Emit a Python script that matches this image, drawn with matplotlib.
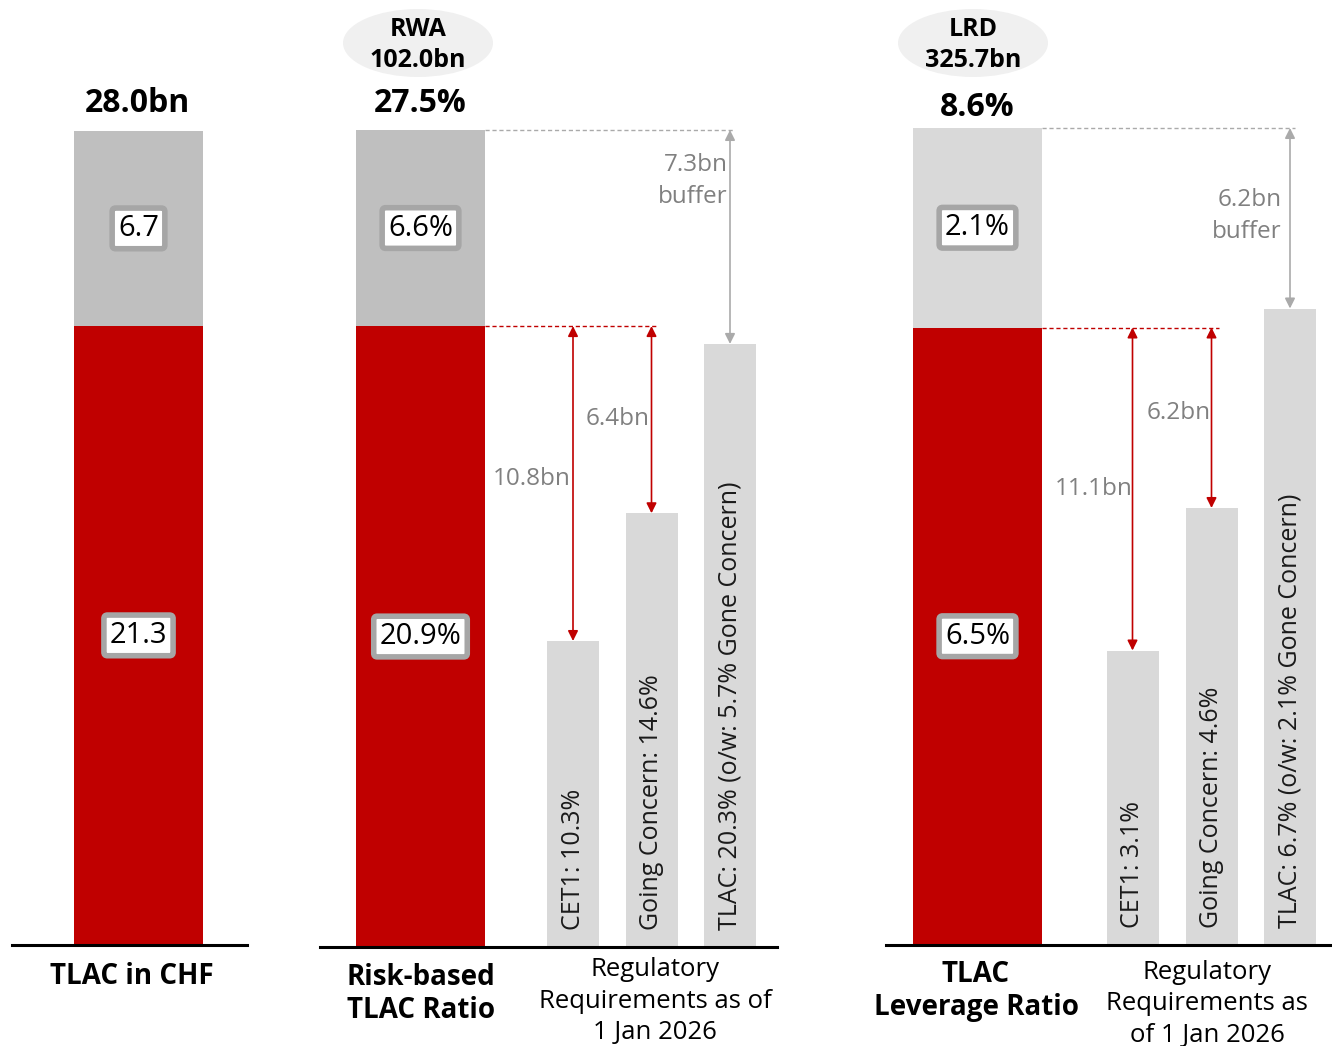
import matplotlib.pyplot as plt
from matplotlib.patches import Ellipse

plt.rcParams['font.family'] = ['Open Sans', 'DejaVu Sans']

# ---------------- data ----------------
chf_values = [21.3, 6.7]            # red, gray
chf_total_label = "28.0bn"
chf_box_labels = ["21.3", "6.7"]

rwa_values = [20.9, 6.6]
rwa_total_label = "27.5%"
rwa_box_labels = ["20.9%", "6.6%"]
rwa_req = [10.3, 14.6, 20.3]
rwa_req_labels = ["CET1: 10.3%", "Going Concern: 14.6%", "TLAC: 20.3% (o/w: 5.7% Gone Concern)"]
rwa_gap_labels = ["10.8bn", "6.4bn", "7.3bn\nbuffer"]
rwa_header = "RWA\n102.0bn"

lrd_values = [6.5, 2.1]
lrd_total_label = "8.6%"
lrd_box_labels = ["6.5%", "2.1%"]
lrd_req = [3.1, 4.6, 6.7]
lrd_req_labels = ["CET1: 3.1%", "Going Concern: 4.6%", "TLAC: 6.7% (o/w: 2.1% Gone Concern)"]
lrd_gap_labels = ["11.1bn", "6.2bn", "6.2bn\nbuffer"]
lrd_header = "LRD\n325.7bn"

category_labels = ["TLAC in CHF", "Risk-based\nTLAC Ratio", "Regulatory\nRequirements as of\n1 Jan 2026",
                   "TLAC\nLeverage Ratio", "Regulatory\nRequirements as\nof 1 Jan 2026"]

# ---------------- style ----------------
RED = '#C00000'
GRAY1 = '#BFBFBF'
GRAY2 = '#D9D9D9'
REQ = '#D9D9D9'
TXTGRAY = '#808080'
ARROWGRAY = '#AAAAAA'
BOXEDGE = '#A6A6A6'

W, H = 1332, 1046
fig = plt.figure(figsize=(W / 100, H / 100), dpi=100)


def fx(x):
    return x / W


def fy(y):
    return 1 - y / H


def make_ax(L, R, B, ymax):
    ax = fig.add_axes([fx(L), fy(B), (R - L) / W, B / H])
    ax.set_xlim(L, R)
    ax.set_ylim(0, ymax)
    for s in ['top', 'left', 'right']:
        ax.spines[s].set_visible(False)
    ax.spines['bottom'].set_linewidth(2.2)
    ax.spines['bottom'].set_color('black')
    ax.set_xticks([])
    ax.set_yticks([])
    ax.patch.set_alpha(0)
    return ax


def box_text(ax, x, y, s):
    ax.text(x, y, s, ha='center', va='center', fontsize=21, color='black', zorder=5,
            bbox=dict(boxstyle='round,pad=0.2,rounding_size=0.12', facecolor='white',
                      edgecolor=BOXEDGE, linewidth=4))


def main_bar(ax, x, vals, top_color, box_labels):
    ax.bar(x, vals[0], width=129, color=RED, zorder=2)
    ax.bar(x, vals[1], width=129, bottom=vals[0], color=top_color, zorder=2)
    box_text(ax, x, vals[0] / 2, box_labels[0])
    box_text(ax, x, vals[0] + vals[1] / 2, box_labels[1])


def req_bars(ax, xs, vals, labels):
    for x, v, lab in zip(xs, vals, labels):
        ax.bar(x, v, width=52, color=REQ, zorder=2)
        ax.annotate(lab, (x, 0), xytext=(0, 12), textcoords='offset points', rotation=90,
                    ha='center', va='bottom', fontsize=18, color='#1a1a1a', zorder=3)


def darrow(ax, x, y0, y1, color):
    ax.annotate('', xy=(x, y0), xytext=(x, y1),
                arrowprops=dict(arrowstyle='<|-|>', color=color, lw=1.2, mutation_scale=15,
                                shrinkA=0, shrinkB=0), zorder=4)


def hdash(ax, x0, x1, y, color):
    ax.plot([x0, x1], [y, y], ls=(0, (3, 2)), color=color, lw=1.0, zorder=3)


def header(x, s):
    fig.patches.append(Ellipse((fx(x), fy(43)), 150 / W, 68 / H, transform=fig.transFigure,
                               facecolor='#F0F0F0', edgecolor='none', zorder=0))
    fig.text(fx(x), fy(45), s, ha='center', va='center', fontsize=18, fontweight='bold',
             linespacing=1.3)


GAPFS = 17.5

# ---------------- panel 1 ----------------
tot1 = sum(chf_values)
ax1 = make_ax(12, 247, 945, tot1 * 945 / 814)
main_bar(ax1, 138.5, chf_values, GRAY1, chf_box_labels)
fig.text(fx(137), fy(104), chf_total_label, ha='center', va='center', fontsize=23, fontweight='bold')

# ---------------- panel 2 ----------------
tot2 = sum(rwa_values)
ax2 = make_ax(320, 777, 947, tot2 * 947 / 817)
main_bar(ax2, 420.5, rwa_values, GRAY1, rwa_box_labels)
xs2 = [573, 651.5, 730]
req_bars(ax2, xs2, rwa_req, rwa_req_labels)
hdash(ax2, 485, 735, tot2, ARROWGRAY)
hdash(ax2, 485, 656, rwa_values[0], RED)
darrow(ax2, xs2[0], rwa_req[0], rwa_values[0], RED)
darrow(ax2, xs2[1], rwa_req[1], rwa_values[0], RED)
darrow(ax2, xs2[2], rwa_req[2], tot2, ARROWGRAY)
fig.text(fx(571), fy(479), rwa_gap_labels[0], ha='right', va='center', fontsize=GAPFS, color=TXTGRAY)
fig.text(fx(650), fy(419), rwa_gap_labels[1], ha='right', va='center', fontsize=GAPFS, color=TXTGRAY)
fig.text(fx(728), fy(181), rwa_gap_labels[2], ha='right', va='center', fontsize=GAPFS, color=TXTGRAY,
         multialignment='right', linespacing=1.4)
fig.text(fx(420), fy(103), rwa_total_label, ha='center', va='center', fontsize=23, fontweight='bold')
header(418, rwa_header)

# ---------------- panel 3 ----------------
tot3 = sum(lrd_values)
ax3 = make_ax(886, 1332, 945, tot3 * 945 / 817)
main_bar(ax3, 977.5, lrd_values, GRAY2, lrd_box_labels)
xs3 = [1132.5, 1211.5, 1290]
req_bars(ax3, xs3, lrd_req, lrd_req_labels)
hdash(ax3, 1042, 1295, tot3, ARROWGRAY)
hdash(ax3, 1042, 1219, lrd_values[0], RED)
darrow(ax3, xs3[0], lrd_req[0], lrd_values[0], RED)
darrow(ax3, xs3[1], lrd_req[1], lrd_values[0], RED)
darrow(ax3, xs3[2], lrd_req[2], tot3, ARROWGRAY)
fig.text(fx(1133), fy(489), lrd_gap_labels[0], ha='right', va='center', fontsize=GAPFS, color=TXTGRAY)
fig.text(fx(1211), fy(413), lrd_gap_labels[1], ha='right', va='center', fontsize=GAPFS, color=TXTGRAY)
fig.text(fx(1282), fy(216), lrd_gap_labels[2], ha='right', va='center', fontsize=GAPFS, color=TXTGRAY,
         multialignment='right', linespacing=1.4)
fig.text(fx(977), fy(107), lrd_total_label, ha='center', va='center', fontsize=23, fontweight='bold')
header(973, lrd_header)

# ---------------- bottom category labels ----------------
fig.text(fx(132), fy(977), category_labels[0], ha='center', va='center', fontsize=20, fontweight='bold')
fig.text(fx(421), fy(994), category_labels[1], ha='center', va='center', fontsize=20, fontweight='bold',
         linespacing=1.17)
fig.text(fx(655), fy(1001), category_labels[2], ha='center', va='center', fontsize=18.5, linespacing=1.35)
fig.text(fx(976), fy(991), category_labels[3], ha='center', va='center', fontsize=20, fontweight='bold',
         linespacing=1.17)
fig.text(fx(1207), fy(1004), category_labels[4], ha='center', va='center', fontsize=18.5, linespacing=1.35)

fig.savefig('out.png', dpi=100)
